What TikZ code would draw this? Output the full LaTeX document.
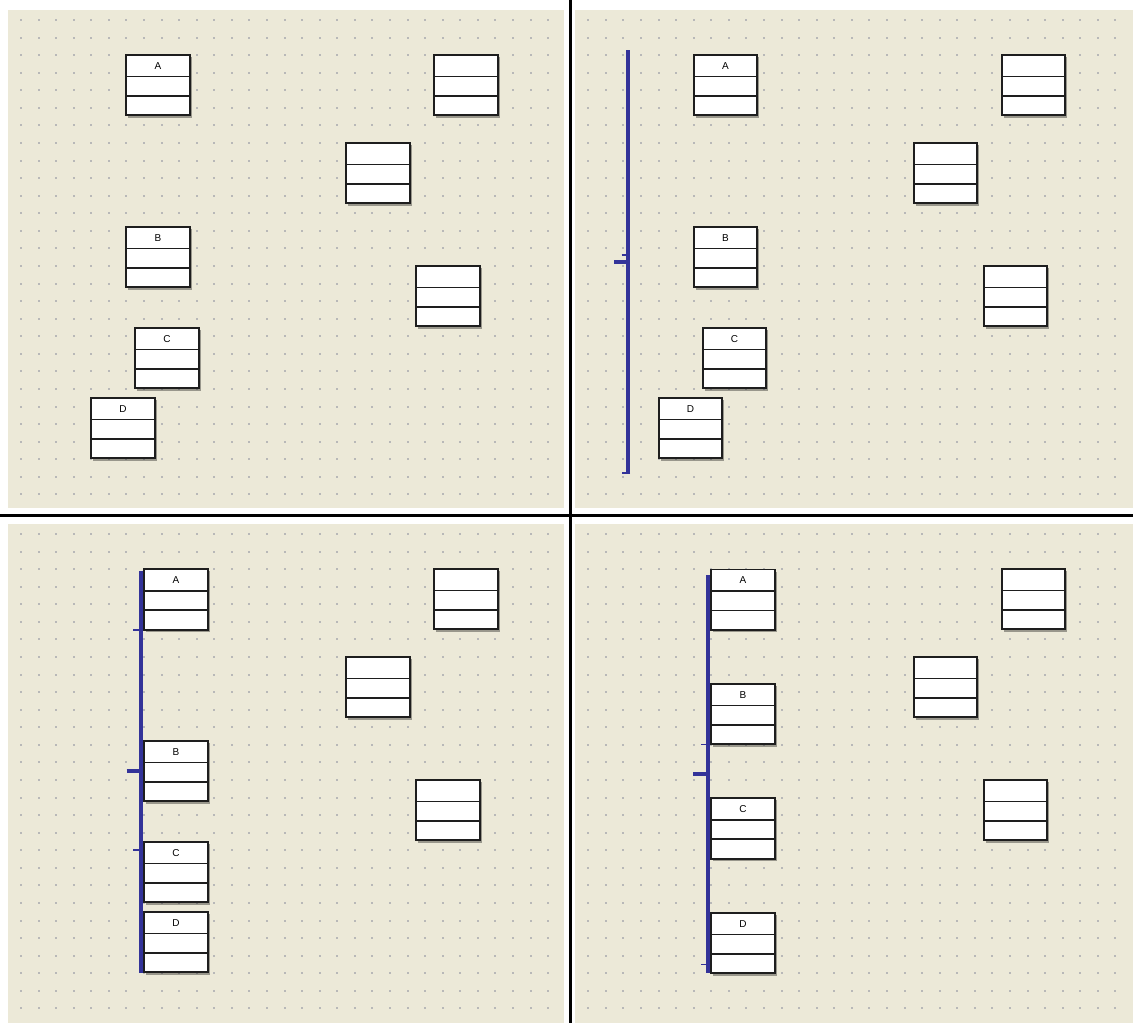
\documentclass[tikz,border=0pt]{standalone}
\usepackage{fontspec}
\setmainfont{Liberation Sans}
\usetikzlibrary{shadows}
\definecolor{bgbeige}{RGB}{236,233,216}
\definecolor{dotgray}{RGB}{184,184,184}
\definecolor{barblue}{RGB}{51,51,153}
\definecolor{boxline}{RGB}{30,30,30}
\newcommand\umlcls[4]{%
  \node[classbox] (#1) at (#2,#3) {};
  \draw[rowsep] ([yshift=-21.6pt]#1.north west) -- ([yshift=-21.6pt]#1.north east);
  \draw[rowsep] ([yshift=-41pt]#1.north west) -- ([yshift=-41pt]#1.north east);
  \node[clslabel] (#1-lbl) at ([yshift=-11pt]#1.north) {#4};
}
\begin{document}
\begin{tikzpicture}[x=1pt,y=-1pt,
  classbox/.style={draw=boxline, line width=1.8pt, fill=white,
    minimum width=63.4pt, minimum height=60.4pt, inner sep=0pt, outer sep=0pt,
    anchor=north west,
    drop shadow={shadow xshift=2.2pt, shadow yshift=-2.2pt, fill=black, opacity=0.35}},
  rowsep/.style={draw=boxline, line width=1.8pt},
  clslabel/.style={inner sep=0pt, font=\fontsize{10}{10}\selectfont},
  panel/.style={fill=bgbeige, draw=none},
  divider/.style={draw=black, line width=3pt},
  barmain/.style={draw=barblue, line width=4pt, line cap=butt},
  barthick/.style={draw=barblue, line width=4pt, line cap=butt},
  barthin/.style={draw=barblue, line width=1.5pt, line cap=butt},
  barfoot/.style={draw=barblue, line width=2pt, line cap=butt}
]
\useasboundingbox (0,0) rectangle (1133,1023);
\fill[white] (0,0) rectangle (1133,1023);
% panels
\path[panel] (8,10) rectangle (564,508);
\path[panel] (575,10) rectangle (1133,508);
\path[panel] (8,524) rectangle (564,1023);
\path[panel] (575,524) rectangle (1133,1023);
% grid dots
\foreach \dx in {0,567.3}{
  \foreach \dy in {0,514}{
    \foreach \i in {0,...,30}{
      \foreach \j in {0,...,27}{
        \fill[dotgray] ({20+17.57*\i+\dx},{19+17.57*\j+\dy}) rectangle ++(2,2);
      }
    }
  }
}
% dividers
\draw[divider] (570,0) -- (570,1023);
\draw[divider] (0,515.8) -- (1133,515.8);

% ---------- top-left panel ----------
\umlcls{tlA}{126.2}{54.9}{A}
\umlcls{tlP}{434.2}{54.9}{}
\umlcls{tlQ}{346.2}{142.9}{}
\umlcls{tlB}{126.2}{226.9}{B}
\umlcls{tlR}{416.2}{265.9}{}
\umlcls{tlC}{135.2}{327.9}{C}
\umlcls{tlD}{91.2}{397.9}{D}

% ---------- top-right panel ----------
\umlcls{trA}{693.7}{54.9}{A}
\umlcls{trP}{1001.7}{54.9}{}
\umlcls{trQ}{913.7}{142.9}{}
\umlcls{trB}{693.7}{226.9}{B}
\umlcls{trR}{983.7}{265.9}{}
\umlcls{trC}{702.7}{327.9}{C}
\umlcls{trD}{658.7}{397.9}{D}
\draw[barmain] (628.2,50) -- (628.2,474);
\draw[barfoot] (630.2,473) -- (622,473);
\draw[barthin] (621.7,255) -- (628.2,255);
\draw[barthick] (614,262.3) -- (628.2,262.3);

% ---------- bottom-left panel ----------
\umlcls{blA}{144.2}{569.2}{A}
\umlcls{blP}{434.2}{568.9}{}
\umlcls{blQ}{346.2}{656.9}{}
\umlcls{blB}{144.2}{740.9}{B}
\umlcls{blR}{416.2}{779.9}{}
\umlcls{blC}{144.2}{841.9}{C}
\umlcls{blD}{144.2}{911.9}{D}
\draw[barmain] (140.5,570.7) -- (140.5,972.5);
\draw[barthin] (133,630) -- (140.5,630);
\draw[barthick] (126.7,770.7) -- (140.5,770.7);
\draw[barthin] (133,850) -- (140.5,850);

% ---------- bottom-right panel ----------
\umlcls{brA}{711.2}{569.4}{A}
\umlcls{brP}{1001.7}{568.9}{}
\umlcls{brQ}{913.7}{656.9}{}
\umlcls{brB}{711.2}{683.9}{B}
\umlcls{brR}{983.7}{779.9}{}
\umlcls{brC}{711.2}{798.2}{C}
\umlcls{brD}{711.2}{912.9}{D}
\draw[barmain] (708,575) -- (708,973);
\draw[barthin] (701,744.3) -- (708,744.3);
\draw[barthick] (693.3,774) -- (708,774);
\draw[barthin] (701,964.7) -- (708,964.7);
\end{tikzpicture}
\end{document}
